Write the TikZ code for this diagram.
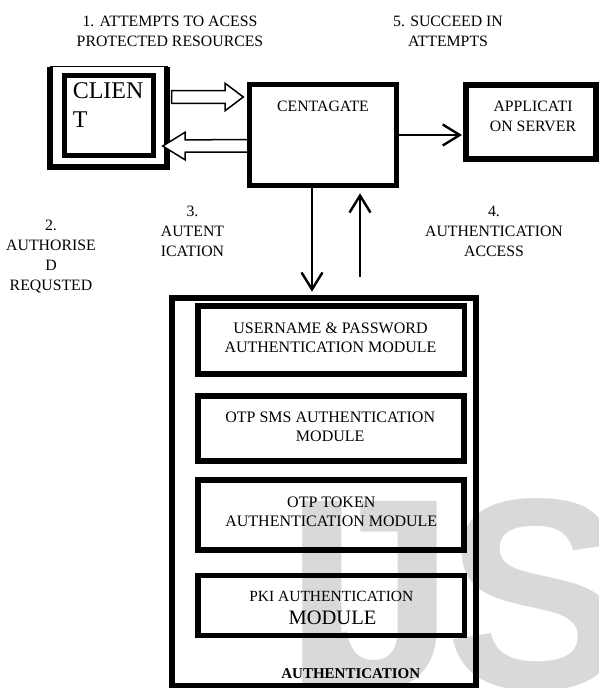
\documentclass[tikz,border=0pt]{standalone}
\usepackage{fontspec}
\setmainfont{Liberation Serif}
\newfontfamily\wmfont{Liberation Sans}
\usetikzlibrary{arrows.meta,calc}
\begin{document}
\begin{tikzpicture}[x=1pt,y=-1pt,
  lbl/.style={font=\fontsize{15.8}{20}\selectfont, align=center, inner sep=0pt, anchor=base},
  modtxt/.style={font=\fontsize{16}{19.5}\selectfont, align=center, inner sep=0pt, anchor=base},
  bx/.style={draw, line width=5.5pt, inner sep=0pt, outer sep=0pt},
  ln/.style={line width=2.4pt, -{Straight Barb[length=17pt,width=21pt]}},
  hollow/.style={draw, line width=1.5pt, fill=white, line join=miter},
  wm/.style={text=black!15, font=\wmfont\bfseries\fontsize{272}{272}\selectfont, inner sep=0pt, anchor=base west}]
\useasboundingbox (0,0) rectangle (599,688);
\fill[white] (0,0) rectangle (599,688);
% watermark
\node[wm] (wI) at (284,688) {I};
\node[wm] (wJ) at (304,688) {J};
\node[wm] (wS) at (445,688) {S};
% labels (base = last line)
\node[lbl] (l1) at (170,46.7) {1. ATTEMPTS TO ACESS\\PROTECTED RESOURCES};
\node[lbl] (l5) at (448,46.7) {5. SUCCEED IN\\ATTEMPTS};
\node[lbl] (l2) at (51,290) {2.\\AUTHORISE\\D\\REQUSTED};
\node[lbl] (l3) at (192.5,256.7) {3.\\AUTENT\\ICATION};
\node[lbl] (l4) at (494,256) {4.\\AUTHENTICATION\\ACCESS};
% client
\node[draw, line width=0.6pt, minimum width=117pt, minimum height=100.5pt, inner sep=0pt, outer sep=0pt] (clientout) at (108.5,116.75) {};
\draw[line width=6pt] (clientout.north west) -- (clientout.south west) -- (clientout.south east) -- (clientout.north east);
\node[bx, line width=5pt, minimum width=88.7pt, minimum height=80pt] (client) at (109.15,115.8) {};
\node[font=\fontsize{24}{29}\selectfont, align=left, inner sep=0pt, anchor=base west] (clienttxt) at (72.6,127.3) {CLIEN\\T};
% centagate and application server
\node[bx, line width=5.3pt, minimum width=146.6pt, minimum height=101.4pt] (cg) at (323,135) {};
\node[lbl] (cgtxt) at (323,111.7) {CENTAGATE};
\node[bx, line width=6pt, minimum width=129.7pt, minimum height=74.5pt] (app) at (531.15,121.75) {};
\node[lbl] (apptxt) at (533,131.7) {APPLICATI\\ON SERVER};
% hollow arrows
\coordinate (h1s) at ($(clientout.east)+(4.7,-19.75)$);
\coordinate (h1t) at ($(cg.west)+(-6.4,-38)$);
\coordinate (h2s) at ($(cg.west)+(0,10.8)$);
\coordinate (h2t) at ($(clientout.east)+(-4.3,29.3)$);
\draw[hollow] ($(h1s)+(0,-6.3)$) -- ($(h1t)+(-18.3,-6.3)$) -- ($(h1t)+(-18.3,-13.8)$) -- (h1t) -- ($(h1t)+(-18.3,13.8)$) -- ($(h1t)+(-18.3,6.3)$) -- ($(h1s)+(0,6.3)$) -- cycle;
\draw[hollow] ($(h2s)+(0,-6.2)$) -- ($(h2t)+(22.3,-6.2)$) -- ($(h2t)+(22.3,-13.7)$) -- (h2t) -- ($(h2t)+(22.3,13.7)$) -- ($(h2t)+(22.3,6.2)$) -- ($(h2s)+(0,6.2)$);
\node[bx, line width=5.3pt, minimum width=146.6pt, minimum height=101.4pt] at (cg) {};
% authentication block
\node[bx, minimum width=303.6pt, minimum height=387.5pt] (auth) at (324,491.55) {};
\node[bx, line width=5.7pt, minimum width=266.8pt, minimum height=67.5pt] (m1) at (331.1,340.05) {};
\node[bx, line width=5.7pt, minimum width=266pt, minimum height=65pt] (m2) at (330.85,428.7) {};
\node[bx, line width=5.7pt, minimum width=266.4pt, minimum height=70pt] (m3) at (331,515) {};
\node[bx, line width=5.7pt, minimum width=266.7pt, minimum height=60pt] (m4) at (331.15,605.5) {};
\node[modtxt] (m1t) at (330.5,352.7) {USERNAME \& PASSWORD\\AUTHENTICATION MODULE};
\node[modtxt] (m2t) at (330.2,441.7) {OTP SMS AUTHENTICATION\\MODULE};
\node[modtxt] (m3t) at (331.3,526.7) {OTP TOKEN\\AUTHENTICATION MODULE};
\node[font=\fontsize{15.5}{20}\selectfont, inner sep=0pt, anchor=base] (m4t) at (331.3,601.7) {PKI AUTHENTICATION};
\node[font=\fontsize{20.5}{22}\selectfont, inner sep=0pt, anchor=base] (m4u) at (332.5,624) {MODULE};
\node[font=\bfseries\fontsize{15}{18}\selectfont, inner sep=0pt, anchor=base] (authtxt) at (350.8,678.3) {AUTHENTICATION};
% line arrows
\draw[ln, shorten >=4.3pt] (cg.east) -- (cg.east -| app.west);
\draw[ln, shorten >=6.1pt] (cg.south -| 312,0) -- (auth.north -| 312,0);
\coordinate (uptail) at (360,277);
\draw[ln, shorten >=7.6pt] (uptail) -- (cg.south -| uptail);
\end{tikzpicture}
\end{document}
